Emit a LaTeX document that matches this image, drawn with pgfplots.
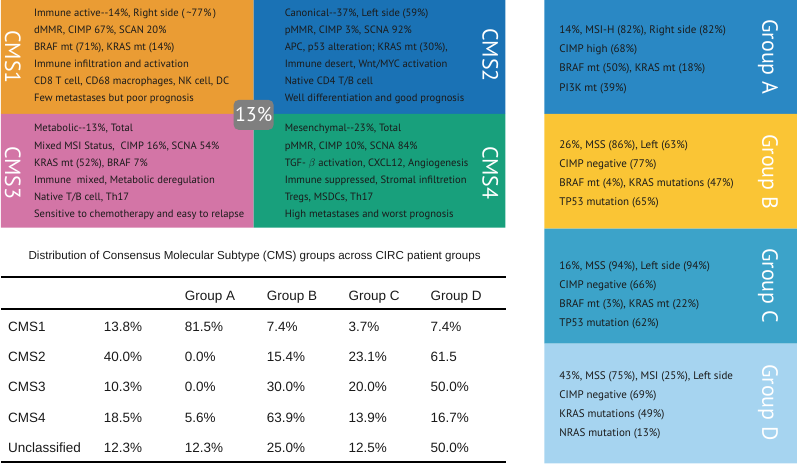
\documentclass[border=0pt]{standalone}
\usepackage{fontspec}
\setmainfont{PT Sans}
\newfontfamily\tabfont{Liberation Sans}
\usepackage{pgfplots}
\pgfplotsset{compat=1.18}
\definecolor{cmsone}{HTML}{EA9C34}
\definecolor{cmstwo}{HTML}{1A72B5}
\definecolor{cmsthree}{HTML}{D375A6}
\definecolor{cmsfour}{HTML}{18A07C}
\definecolor{grpa}{HTML}{2A88C4}
\definecolor{grpb}{HTML}{FAC535}
\definecolor{grpc}{HTML}{3CA3C9}
\definecolor{grpd}{HTML}{A6D4F0}
\definecolor{badge}{HTML}{7F7F7F}
\definecolor{txt}{HTML}{1A1A1A}
\newcommand{\rectbox}[5]{\addplot[fill=#5,draw=none,forget plot] coordinates {(#1,#2)(#3,#2)(#3,#4)(#1,#4)(#1,#2)};}
\newcommand{\bfnt}{\fontsize{10.6}{12}\selectfont}
\newcommand{\gfnt}{\fontsize{11}{13}\selectfont}
\newcommand{\lfnt}{\fontsize{22}{24}\selectfont}
\newcommand{\tfnt}{\tabfont\fontsize{13.5}{15}\selectfont}
\begin{document}
\begin{tikzpicture}
\begin{axis}[
  width=797pt, height=464pt, scale only axis,
  xmin=0, xmax=797, ymin=0, ymax=464, y dir=reverse,
  axis lines=none, clip=false,
]
% CMS quadrants
\rectbox{0}{0}{253}{114}{cmsone}
\rectbox{253}{0}{505}{114}{cmstwo}
\rectbox{0}{114}{253}{228}{cmsthree}
\rectbox{253}{114}{505}{228}{cmsfour}
% Group panels
\rectbox{544}{0}{797}{114}{grpa}
\rectbox{544}{114}{797}{229}{grpb}
\rectbox{544}{229}{797}{344}{grpc}
\rectbox{544}{344}{797}{464}{grpd}
% table rules
\addplot[black,line width=1.8pt,forget plot] coordinates {(0,277)(506,277)};
\addplot[black,line width=1.8pt,forget plot] coordinates {(0,309)(506,309)};
\addplot[black,line width=1.8pt,forget plot] coordinates {(0,462.5)(506,462.5)};

% CMS labels
\node[rotate=-90,text=white,font=\lfnt] at (12,57) {CMS1};
\node[rotate=-90,text=white,font=\lfnt] at (490,55) {CMS2};
\node[rotate=-90,text=white,font=\lfnt] at (12,173) {CMS3};
\node[rotate=-90,text=white,font=\lfnt] at (490,173) {CMS4};
% badge
\node[fill=badge,rounded corners=5pt,minimum width=40pt,minimum height=30pt,inner sep=0pt,text=white,font=\fontsize{20}{21}\selectfont] at (253,115) {13\%};

% CMS1 text
\begin{scope}[every node/.style={anchor=base west,font=\bfnt,text=txt,inner sep=0pt}]
\node at (33,16.5) {Immune active-{}-14\%, Right side\ (\,\textasciitilde77\%\,)};
\node at (33,33.6) {dMMR, CIMP 67\%, SCAN 20\%};
\node at (33,50.7) {BRAF mt (71\%), KRAS mt (14\%)};
\node at (33,67.8) {Immune infiltration and activation};
\node at (33,84.9) {CD8 T cell, CD68 macrophages, NK cell, DC};
\node at (33,102) {Few metastases but poor prognosis};
% CMS2
\node at (284,16.5) {Canonical-{}-37\%, Left side (59\%)};
\node at (284,33.6) {pMMR, CIMP 3\%, SCNA 92\%};
\node at (284,50.7) {APC, p53 alteration; KRAS mt (30\%),};
\node at (284,67.8) {Immune desert, Wnt/MYC activation};
\node at (284,84.9) {Native CD4 T/B cell};
\node at (284,102) {Well differentiation and good prognosis};
% CMS3
\node at (33,132) {Metabolic-{}-13\%, Total};
\node at (33,149.2) {Mixed MSI Status,\ \ CIMP 16\%, SCNA 54\%};
\node at (33,166.4) {KRAS mt (52\%), BRAF 7\%};
\node at (33,183.6) {Immune\ \ mixed, Metabolic deregulation};
\node at (33,200.8) {Native T/B cell, Th17};
\node at (33,218) {Sensitive to chemotherapy and easy to relapse};
% CMS4
\node at (284,132) {Mesenchymal-{}-23\%, Total};
\node at (284,149.2) {pMMR, CIMP 10\%, SCNA 84\%};
\node at (284,166.4) {TGF- $\beta$ activation, CXCL12, Angiogenesis};
\node at (284,183.6) {Immune suppressed, Stromal infiltretion};
\node at (284,200.8) {Tregs, MSDCs, Th17};
\node at (284,218) {High metastases and worst prognosis};
\end{scope}

% Group texts
\begin{scope}[every node/.style={anchor=base west,font=\gfnt,text=txt,inner sep=0pt}]
\node at (559,33.5) {14\%, MSI-H (82\%), Right side (82\%)};
\node at (559,52.7) {CIMP high (68\%)};
\node at (559,71.9) {BRAF mt (50\%), KRAS mt (18\%)};
\node at (559,91.1) {PI3K mt (39\%)};
\node at (559,148.5) {26\%, MSS (86\%), Left (63\%)};
\node at (559,167.5) {CIMP negative (77\%)};
\node at (559,186.5) {BRAF mt (4\%), KRAS mutations (47\%)};
\node at (559,205.5) {TP53 mutation (65\%)};
\node at (559,269.5) {16\%, MSS (94\%), Left side (94\%)};
\node at (559,288.7) {CIMP negative (66\%)};
\node at (559,307.9) {BRAF mt (3\%), KRAS mt (22\%)};
\node at (559,327.1) {TP53 mutation (62\%)};
\node at (559,379.5) {43\%, MSS (75\%), MSI (25\%), Left side};
\node at (559,398.7) {CIMP negative (69\%)};
\node at (559,417.9) {KRAS mutations (49\%)};
\node at (559,437.1) {NRAS mutation (13\%)};
\end{scope}
% Group labels
\node[rotate=-90,text=white,font=\lfnt] at (768,57) {Group A};
\node[rotate=-90,text=white,font=\lfnt] at (768,172) {Group B};
\node[rotate=-90,text=white,font=\lfnt] at (768,286) {Group C};
\node[rotate=-90,text=white,font=\lfnt] at (768,403) {Group D};

% table
\node[font=\tabfont\fontsize{11.6}{13}\selectfont,text=txt] at (254,257) {Distribution of Consensus Molecular Subtype (CMS) groups across CIRC patient groups};
\begin{scope}[every node/.style={anchor=base west,font=\tfnt,text=txt,inner sep=0pt}]
\node at (184,301) {Group A};
\node at (266,301) {Group B};
\node at (348,301) {Group C};
\node at (430,301) {Group D};
\node at (7,332) {CMS1};\node at (103,332) {13.8\%};\node at (184,332) {81.5\%};\node at (266,332) {7.4\%};\node at (348,332) {3.7\%};\node at (430,332) {7.4\%};
\node at (7,362) {CMS2};\node at (103,362) {40.0\%};\node at (184,362) {0.0\%};\node at (266,362) {15.4\%};\node at (348,362) {23.1\%};\node at (430,362) {61.5};
\node at (7,392) {CMS3};\node at (103,392) {10.3\%};\node at (184,392) {0.0\%};\node at (266,392) {30.0\%};\node at (348,392) {20.0\%};\node at (430,392) {50.0\%};
\node at (7,423) {CMS4};\node at (103,423) {18.5\%};\node at (184,423) {5.6\%};\node at (266,423) {63.9\%};\node at (348,423) {13.9\%};\node at (430,423) {16.7\%};
\node at (7,453) {Unclassified};\node at (103,453) {12.3\%};\node at (184,453) {12.3\%};\node at (266,453) {25.0\%};\node at (348,453) {12.5\%};\node at (430,453) {50.0\%};
\end{scope}
\end{axis}
\end{tikzpicture}
\end{document}
